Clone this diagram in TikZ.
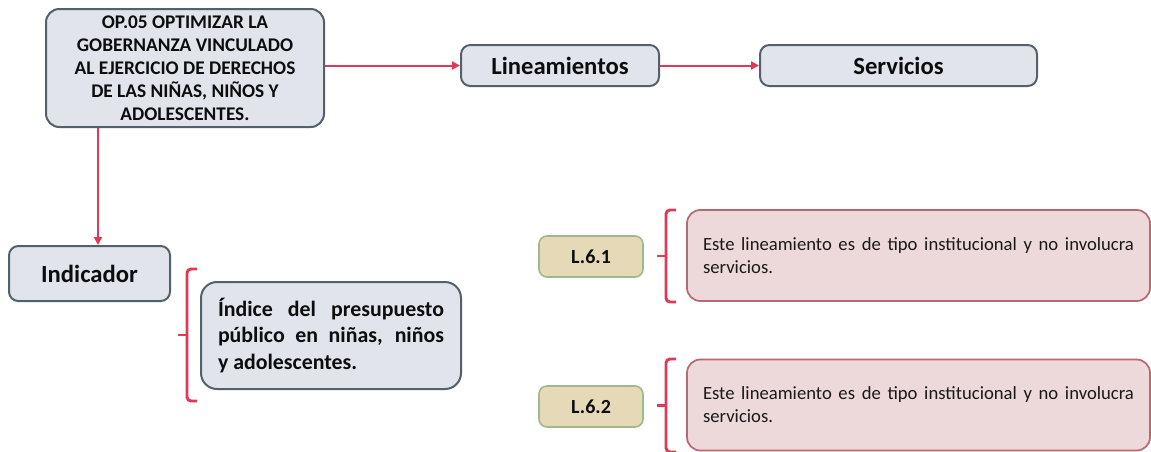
\documentclass[tikz,border=0pt]{standalone}
\usepackage{fontspec}
\setmainfont{Carlito}
\usetikzlibrary{arrows.meta, positioning}
\definecolor{boxgray}{RGB}{225,228,234}
\definecolor{edgegray}{RGB}{84,96,108}
\definecolor{linkred}{RGB}{222,57,87}
\definecolor{tanfill}{RGB}{230,217,184}
\definecolor{tanedge}{RGB}{160,185,140}
\definecolor{pinkfill}{RGB}{237,217,218}
\definecolor{pinkedge}{RGB}{184,104,112}
\tikzstyle{head} = [rectangle, rounded corners=7pt, draw=edgegray, line width=1.5pt, fill=boxgray, text=black!95, font=\bfseries\fontsize{18.5}{22}\selectfont, align=center, inner sep=0pt]
\tikzstyle{code} = [rectangle, rounded corners=6pt, draw=tanedge, line width=1.2pt, fill=tanfill, text=black!95, font=\bfseries\fontsize{15}{18}\selectfont, minimum width=78pt, minimum height=30.75pt, inner sep=0pt]
\tikzstyle{note} = [rectangle, rounded corners=10pt, draw=pinkedge, line width=1.3pt, fill=pinkfill, text=black!90, font=\fontsize{14}{17.25}\selectfont, align=justify, text width=323.25pt, minimum width=347.25pt, minimum height=68.25pt, inner sep=0pt]
\tikzstyle{arrow} = [line width=1.5pt, draw=linkred, -{Triangle[length=6pt,width=6pt]}]
\tikzstyle{brace} = [line width=2.2pt, draw=linkred, rounded corners=3pt]
\newcommand{\sidebrace}[3]{% x, top, bottom (px)
  \draw[brace] (#1+10,#2) -- (#1,#2) -- (#1,#3) -- (#1+10,#3);
  \draw[brace] (#1,{(#2+#3)/2}) -- (#1-9,{(#2+#3)/2});}

\begin{document}
\begin{tikzpicture}[x=0.75pt, y=-0.75pt]
\useasboundingbox (0,0) rectangle (1151,451);
% top row
\node(op)[head, rounded corners=10pt, minimum width=208.5pt, minimum height=88.5pt,
  font=\bfseries\fontsize{14.5}{17.25}\selectfont] at (185,68)
  {OP.05 OPTIMIZAR LA\\GOBERNANZA VINCULADO\\AL EJERCICIO DE DERECHOS\\DE LAS NIÑAS, NIÑOS Y\\ADOLESCENTES.};
\node(lin)[head, minimum width=148.5pt, minimum height=30.75pt] at (560,65.5) {Lineamientos};
\node(serv)[head, minimum width=207.75pt, minimum height=30.75pt] at (898.5,65.5) {Servicios};
\draw[arrow] (lin.west -| op.east) -- (lin.west);
\draw[arrow] (lin) -- (serv);
% indicator
\node(ind)[head, minimum width=120.75pt, minimum height=41.25pt] at (89.5,273.5) {Indicador};
\draw[arrow] ([xshift=39.75pt]op.south west) -- ([xshift=39.75pt]op.south west |- ind.north);
\node(idx)[head, rounded corners=12pt, align=justify, text width=169.5pt, minimum width=195pt, minimum height=80.25pt,
  font=\bfseries\fontsize{16.4}{20}\selectfont] at (331,335.5)
  {Índice del presupuesto\linebreak público en niñas, niños\linebreak y adolescentes.};
\sidebrace{187}{269}{401}
% guidelines
\node(l61)[code] at (591,256.5) {L.6.1};
\node(l62)[code] at (591,406.5) {L.6.2};
\node(n61)[note] at (918.5,255.5) {Este lineamiento es de tipo institucional y no involucra\linebreak servicios.};
\node(n62)[note] at (918.5,405) {Este lineamiento es de tipo institucional y no involucra\linebreak servicios.};
\sidebrace{666}{210}{302}
\sidebrace{666}{359}{452}
\end{tikzpicture}
\end{document}
